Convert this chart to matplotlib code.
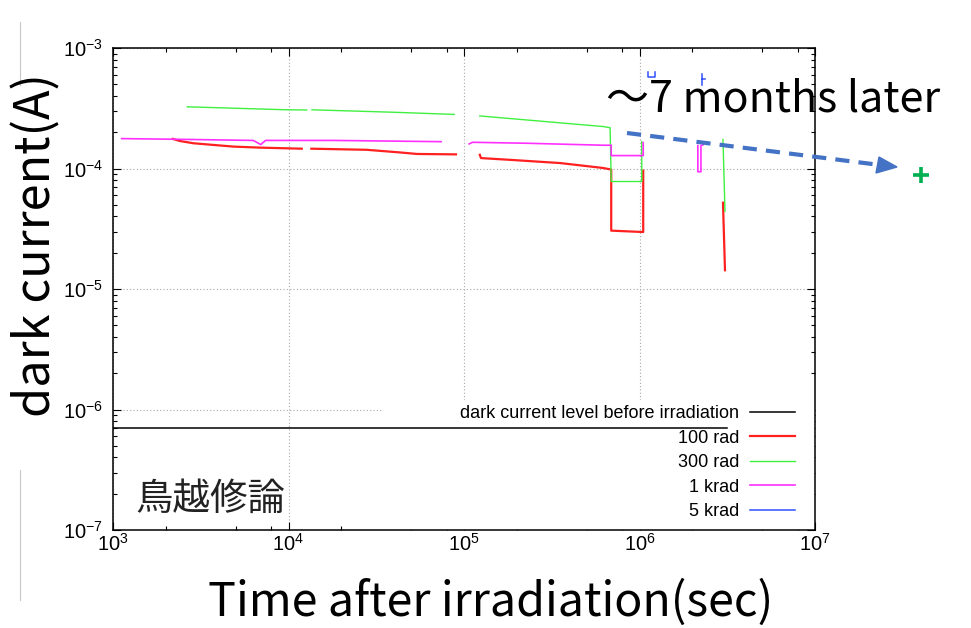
import numpy as np
import matplotlib
matplotlib.use("Agg")
import matplotlib.pyplot as plt
from matplotlib.lines import Line2D
from matplotlib.patches import Rectangle
from matplotlib.ticker import FixedLocator, LogLocator, NullFormatter

plt.rcParams['font.family'] = ['Liberation Sans', 'DejaVu Sans']
plt.rcParams['mathtext.default'] = 'regular'
JP = ['Noto Sans CJK JP', 'DejaVu Sans']

nan = np.nan

# ── data (time in sec, current in A) ────────────────────────────────
t_100 = [2.19e3, 2.41e3, 2.87e3, 4.85e3, 6.9e3, 1.19e4, nan,
         1.35e4, 2.78e4, 4.3e4, 5.4e4, 9.0e4, nan,
         1.23e5, 1.25e5, 1.83e5, 3.52e5, 6.2e5, 6.9e5, 6.9e5, 1.05e6, 1.05e6, nan,
         2.99e6, 3.07e6]
i_100 = [1.76e-4, 1.69e-4, 1.62e-4, 1.52e-4, 1.49e-4, 1.46e-4, nan,
         1.46e-4, 1.43e-4, 1.36e-4, 1.32e-4, 1.31e-4, nan,
         1.30e-4, 1.22e-4, 1.18e-4, 1.11e-4, 1.01e-4, 9.8e-5, 3.05e-5, 2.97e-5, 9.6e-5, nan,
         5.2e-5, 1.43e-5]

t_300 = [2.65e3, 9.8e3, 1.27e4, nan,
         1.36e4, 3.95e4, 8.8e4, nan,
         1.23e5, 6.2e5, 6.8e5, 6.9e5, 1.03e6, 1.03e6, nan,
         2.99e6, 3.07e6]
i_300 = [3.25e-4, 3.07e-4, 3.06e-4, nan,
         3.07e-4, 2.93e-4, 2.81e-4, nan,
         2.73e-4, 2.23e-4, 2.18e-4, 7.8e-5, 7.8e-5, 1.67e-4, nan,
         1.74e-4, 4.4e-5]

t_1k = [1.12e3, 2.19e3, 6.3e3, 6.95e3, 7.4e3, 1.8e4, 7.4e4, nan,
        1.07e5, 1.12e5, 2.28e5, 6.2e5, 6.9e5, 6.9e5, 1.05e6, 1.05e6, nan,
        2.15e6, 2.15e6, 2.24e6, 2.24e6, 2.3e6]
i_1k = [1.77e-4, 1.75e-4, 1.71e-4, 1.58e-4, 1.71e-4, 1.71e-4, 1.67e-4, nan,
        1.60e-4, 1.65e-4, 1.62e-4, 1.56e-4, 1.56e-4, 1.28e-4, 1.28e-4, 1.64e-4, nan,
        1.55e-4, 9.4e-5, 9.4e-5, 1.55e-4, 1.57e-4]

t_5k = [1.12e6, 1.12e6, 1.22e6, 1.22e6, nan,
        2.27e6, 2.27e6, nan, 2.27e6, 2.36e6]
i_5k = [6.3e-4, 5.7e-4, 5.7e-4, 6.3e-4, nan,
        6.1e-4, 4.9e-4, nan, 5.5e-4, 5.5e-4]

t_before = [1e3, 3.16e6]
i_before = [7.0e-7, 7.0e-7]

labels = ['dark current level before irradiation', '100 rad', '300 rad', '1 krad', '5 krad']
colors = ['black', '#ff2020', '#40f040', '#ff30ff', '#3050ff']

W, H = 971, 628
fig = plt.figure(figsize=(W / 100, H / 100), dpi=100)
ax = fig.add_axes([113 / W, 1 - 530 / H, 702 / W, 482 / H])

def px(x, y):
    return (x / W, 1 - y / H)

# opaque key box like gnuplot (cuts the grid)
ax.add_patch(Rectangle((0.3846, 0.0), 0.6154, 0.2697, transform=ax.transAxes,
                       facecolor='white', edgecolor='none', zorder=1.8))

ax.plot(t_before, i_before, color=colors[0], lw=1.1, zorder=3, label=labels[0])
ax.plot(t_100, i_100, color=colors[1], lw=1.6, zorder=3, label=labels[1])
ax.plot(t_300, i_300, color=colors[2], lw=1.0, zorder=3, label=labels[2])
ax.plot(t_1k, i_1k, color=colors[3], lw=1.2, zorder=3, label=labels[3])
ax.plot(t_5k, i_5k, color=colors[4], lw=1.1, zorder=3, label=labels[4])

ax.set_xscale('log')
ax.set_yscale('log')
ax.set_xlim(1e3, 1e7)
ax.set_ylim(1e-7, 1e-3)

ax.xaxis.set_major_locator(FixedLocator([1e3, 1e4, 1e5, 1e6, 1e7]))
ax.xaxis.set_minor_locator(FixedLocator([m * 10.0 ** e for e in range(3, 7) for m in (2, 5, 8)]))
ax.yaxis.set_major_locator(FixedLocator([1e-7, 1e-6, 1e-5, 1e-4, 1e-3]))
ax.yaxis.set_minor_locator(LogLocator(base=10, subs=np.arange(2, 10)))
ax.xaxis.set_minor_formatter(NullFormatter())
ax.yaxis.set_minor_formatter(NullFormatter())
ax.set_xticklabels(['$10^{%d}$' % e for e in range(3, 8)])
ax.set_yticklabels(['$10^{%d}$' % e for e in range(-7, -2)])

ax.tick_params(which='both', direction='in', top=True, right=True, labelsize=14.5,
               width=0.8, colors='black')
ax.tick_params(which='major', length=5.5)
ax.tick_params(which='minor', length=2.6)
ax.tick_params(axis='y', which='major', pad=7)
ax.tick_params(axis='x', which='major', pad=2)
for s in ax.spines.values():
    s.set_linewidth(1.1)

ax.grid(True, which='major', color='#a8a8a8', linestyle=(0, (1, 2)), linewidth=0.8)

leg = ax.legend(loc='lower right', bbox_to_anchor=(0.9715, 0.02), frameon=False,
                markerfirst=False, fontsize=13, handlelength=2.5, handletextpad=0.6,
                labelspacing=0.42, borderpad=0, borderaxespad=0)
leg.set_zorder(2)

# axis titles
fig.text(491 / W, 1 - 603 / H, 'Time after irradiation(sec)', family=JP,
         fontsize=33.5, ha='center', va='center')
fig.text(37 / W, 1 - 245 / H, 'dark current(A)', family=JP, fontsize=35,
         rotation=90, ha='center', va='center')

# annotations
fig.text(606 / W, 1 - 99 / H, '～7 months later', family=JP, fontsize=31,
         ha='left', va='center')
fig.text(135 / W, 1 - 499 / H, '鳥越修論', family=JP, fontsize=27,
         ha='left', va='center', color='#222222')

blue = '#4472c4'
fig.add_artist(Line2D([627 / W, 880 / W], [1 - 133 / H, 1 - 165 / H], color=blue,
                      lw=3, linestyle=(0, (3.4, 2.2)), solid_capstyle='butt'))
fig.add_artist(plt.Polygon([px(897, 167), px(879, 157), px(876, 173)], closed=True,
                           facecolor=blue, edgecolor=blue, transform=fig.transFigure))
fig.add_artist(Line2D([921 / W], [1 - 175 / H], marker='+', color='#00b050',
                      markersize=12, markeredgewidth=2.6))

# slide artifacts at left edge
fig.add_artist(Line2D([20 / W, 20 / W], [1 - 22 / H, 1 - 85 / H], color='#c8c8c8', lw=0.8))
fig.add_artist(Line2D([20 / W, 20 / W], [1 - 470 / H, 1 - 600 / H], color='#c8c8c8', lw=0.8))

fig.savefig('out.png', dpi=100)
